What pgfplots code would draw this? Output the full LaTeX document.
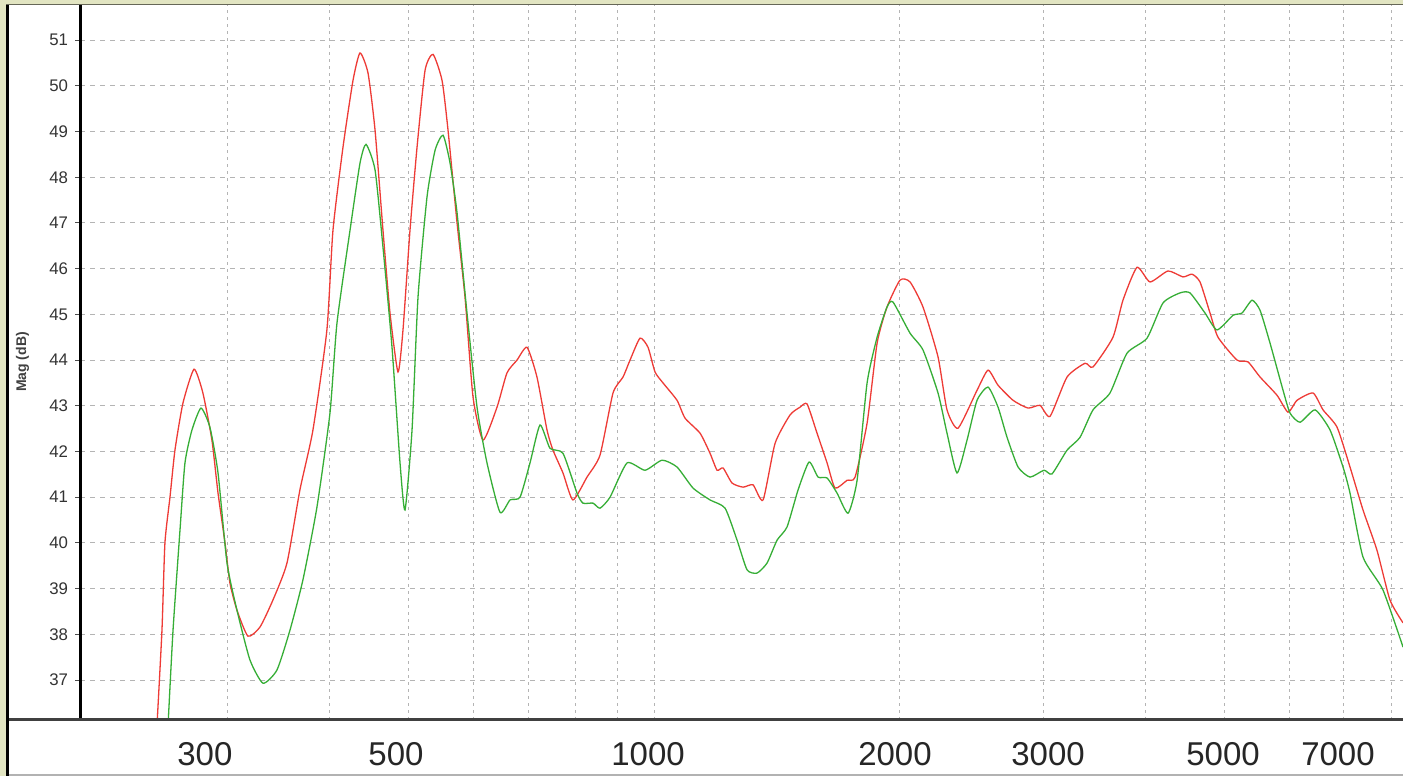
\documentclass[border=0pt]{standalone}
\usepackage{pgfplots}
\pgfplotsset{compat=1.18}
\usepackage{fontspec}
\setmainfont{Liberation Sans}
\definecolor{khaki}{HTML}{E2E5C2}
\definecolor{redc}{HTML}{EE3B36}
\definecolor{greenc}{HTML}{36AE36}
\definecolor{gridc}{HTML}{B4B4B4}
\begin{document}
\begin{tikzpicture}
\useasboundingbox (0,0) rectangle (701.5pt,388pt);
\fill[khaki] (0,0) rectangle (701.5pt,388pt);
\fill[white] (4.5pt,0.5pt) rectangle (701.5pt,385.5pt);
\begin{axis}[
  at={(40pt,28pt)}, anchor=south west,
  scale only axis, width=661.5pt, height=357.5pt,
  xmode=log, xmin=197.6, xmax=8275, ymin=36.125, ymax=51.77,
  axis y line*=left, axis x line*=bottom,
  x axis line style={draw=none},
  y axis line style={line width=1.5pt, black},
  xtick={281.1,482.1,982,1972,3037.5,4979,6887},
  xticklabels={300,500,1000,2000,3000,5000,7000},
  xtick style={draw=none},
  minor xtick={300,400,500,600,700,800,900,1000,2000,3000,4000,5000,6000,7000,8000},
  minor x tick style={draw=none},
  xminorgrids=true, xmajorgrids=false,
  minor x grid style={gridc, line width=0.5pt, dash pattern=on 1.5pt off 2pt},
  ytick={37,38,...,51},
  ymajorgrids=true,
  major y grid style={gridc, line width=0.5pt, dash pattern=on 2.5pt off 2.5pt},
  y tick style={black!70, line width=0.5pt},
  tick align=outside, major tick length=2.5pt,
  xticklabel style={font=\fontsize{16.5}{18}\selectfont, text=black!85, anchor=center, yshift=-14.5pt},
  yticklabel style={font=\fontsize{8.4}{10}\selectfont, text=black!80},
  /pgf/number format/assume math mode=true,
  log ticks with fixed point,
  clip=true,
]
\addplot[redc, line width=0.65pt, smooth, tension=0.35] table {
245.5 36.0
249.0 38.09
251.1 40.00
254.7 41.00
258.3 42.03
264.2 43.06
272.6 43.80
279.5 43.28
286.7 42.25
291.7 41.09
297.5 40.00
301.7 39.12
307.7 38.53
317.4 37.96
328.4 38.16
340.6 38.75
354.4 39.56
367.6 41.16
381.4 42.47
396.7 44.66
403.5 46.84
415.1 48.66
427.0 50.12
435.5 50.72
445.5 50.28
454.4 49.03
464.7 46.84
474.0 45.03
484.8 43.74
491.7 44.66
501.5 46.84
511.6 48.66
523.3 50.34
535.2 50.69
549.0 50.12
558.4 49.03
572.8 47.00
585.8 45.38
599.2 43.19
616.4 42.25
641.2 42.97
659.5 43.72
678.4 44.00
697.9 44.28
717.8 43.63
738.4 42.47
751.0 42.03
772.5 41.53
794.6 40.94
826.6 41.44
857.5 41.92
889.6 43.28
915.1 43.63
933.4 44.00
960.1 44.48
982.0 44.28
1001.6 43.74
1024.5 43.50
1065.8 43.12
1090.2 42.73
1137.4 42.40
1169.9 41.96
1193.3 41.59
1213.7 41.64
1244.9 41.31
1284.2 41.22
1321.0 41.27
1358.8 40.94
1405.7 42.18
1466.4 42.80
1508.5 42.97
1538.6 43.04
1582.6 42.40
1628.0 41.75
1665.1 41.20
1722.5 41.37
1761.9 41.44
1822.6 42.62
1874.9 44.37
1928.0 45.16
2000.2 45.75
2057.4 45.71
2134.3 45.16
2226.7 44.07
2283.9 42.91
2356.0 42.51
2485.9 43.34
2564.3 43.78
2637.8 43.45
2752.1 43.12
2871.0 42.95
2969.7 43.01
3054.9 42.77
3205.2 43.63
3372.0 43.93
3449.1 43.85
3648.9 44.50
3753.6 45.31
3905.1 46.03
4050.9 45.71
4261.8 45.95
4446.3 45.82
4560.9 45.88
4665.0 45.71
4798.8 45.03
4908.3 44.50
5178.9 44.00
5342.4 43.96
5526.6 43.63
5798.4 43.23
5981.4 42.86
6135.3 43.12
6419.4 43.28
6603.0 42.91
6869.1 42.53
7125.3 41.66
7391.4 40.72
7688.7 39.84
7976.4 38.75
8274.9 38.25
};
\addplot[greenc, line width=0.65pt, smooth, tension=0.35] table {
253.3 36.0
256.9 38.09
262.0 40.28
265.7 41.75
271.0 42.47
278.0 42.95
285.1 42.53
291.7 41.53
299.2 39.56
307.7 38.53
319.2 37.44
331.2 36.93
344.5 37.22
357.4 38.09
370.7 39.19
385.7 40.78
400.1 42.84
408.1 44.81
423.4 46.84
435.5 48.31
443.0 48.72
454.4 48.16
464.7 46.47
476.7 44.28
487.6 41.75
494.5 40.72
504.4 42.47
513.0 45.38
526.2 47.57
538.3 48.59
550.6 48.92
561.6 48.31
572.8 47.22
589.1 45.03
606.0 42.97
623.3 41.75
646.6 40.67
665.2 40.94
684.2 41.00
703.8 41.75
724.0 42.58
744.7 42.07
772.5 41.96
803.6 41.09
817.3 40.87
840.7 40.87
857.5 40.76
882.1 41.00
925.5 41.75
973.7 41.59
1021.6 41.81
1065.8 41.66
1115.1 41.20
1169.9 40.94
1220.6 40.76
1262.6 40.06
1298.8 39.41
1336.0 39.34
1374.3 39.56
1413.6 40.06
1454.1 40.35
1500.0 41.16
1547.3 41.77
1587.1 41.44
1628.0 41.42
1674.5 41.09
1727.4 40.65
1771.9 41.37
1822.6 43.50
1874.9 44.50
1928.0 45.16
1961.0 45.27
2057.4 44.59
2134.3 44.22
2226.7 43.28
2283.9 42.40
2349.4 41.53
2416.7 42.25
2485.9 43.12
2564.3 43.41
2637.8 42.97
2705.8 42.31
2791.2 41.66
2887.3 41.44
3003.5 41.59
3072.0 41.51
3205.2 42.03
3324.9 42.31
3449.1 42.91
3618.3 43.28
3796.2 44.15
4016.7 44.48
4202.1 45.25
4408.8 45.47
4535.1 45.47
4731.3 45.03
4894.5 44.66
5120.7 44.98
5252.7 45.03
5403.0 45.31
5526.6 45.09
5685.0 44.37
5897.4 43.34
6015.3 42.84
6187.5 42.64
6455.7 42.91
6734.7 42.47
6985.5 41.66
7125.3 41.09
7391.4 39.69
7820.1 38.97
8274.9 37.72
};
\end{axis}
\draw[black, line width=1.5pt] (3.75pt,0pt) -- (3.75pt,386pt);
\draw[black!55!khaki, line width=0.6pt] (3pt,385.8pt) -- (701.5pt,385.8pt);
\draw[black!75, line width=1.5pt] (4.5pt,28pt) -- (701.5pt,28pt);
\draw[black!30, line width=0.8pt] (4.5pt,0.6pt) -- (701.5pt,0.6pt);
\node[rotate=90, font=\fontsize{7}{8}\selectfont\bfseries, text=black!75] at (11.25pt,207pt) {Mag (dB)};
\end{tikzpicture}
\end{document}
